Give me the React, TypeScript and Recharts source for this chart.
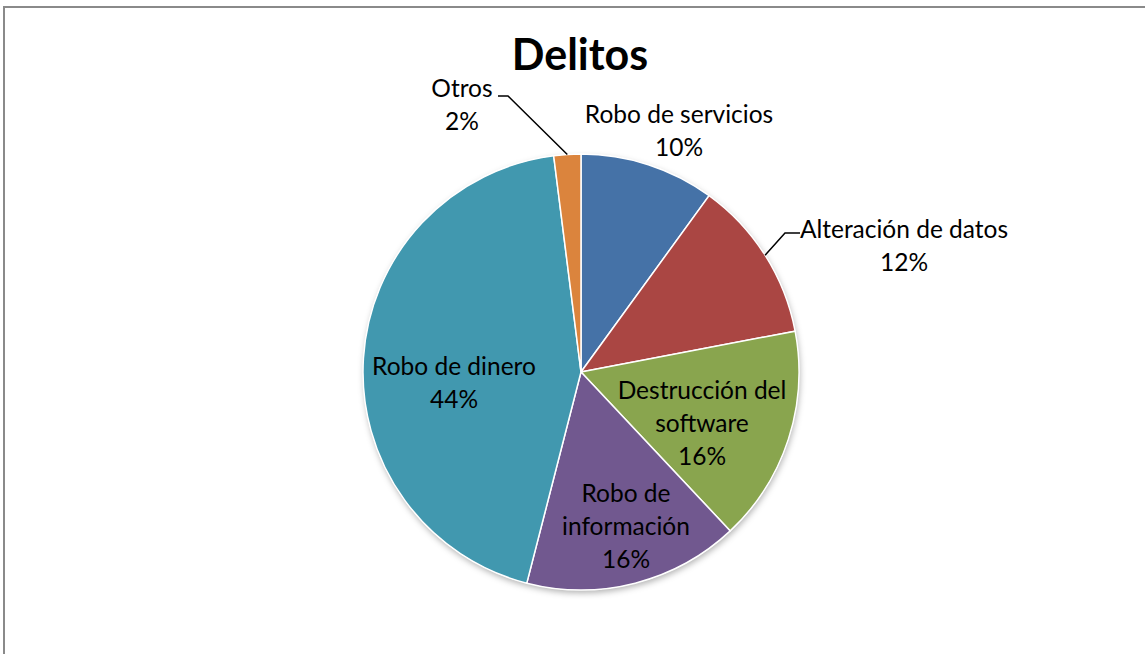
import React from 'react';
import { PieChart, Pie, Cell } from 'recharts';

const categories = [
  'Robo de servicios',
  'Alteración de datos',
  'Destrucción del software',
  'Robo de información',
  'Robo de dinero',
  'Otros',
];
const values = [10, 12, 16, 16, 44, 2];
const percentLabels = ['10%', '12%', '16%', '16%', '44%', '2%'];

// layout (line breaks and label placement)
const labelLines = [
  ['Robo de servicios', '10%'],
  ['Alteración de datos', '12%'],
  ['Destrucción del', 'software', '16%'],
  ['Robo de', 'información', '16%'],
  ['Robo de dinero', '44%'],
  ['Otros', '2%'],
];
const colors = ['#4572A7', '#AA4643', '#89A54E', '#71588F', '#4198AF', '#DB843D'];
const labelOffsets: [number, number][] = [
  [98, -249],
  [323, -134],
  [121, 27],
  [45, 130],
  [-127, 3],
  [-119, -275],
];
const leaders: (null | { elbow: [number, number]; end: [number, number] })[] = [
  null,
  { elbow: [204, -139], end: [219, -139] },
  null,
  null,
  null,
  { elbow: [-73, -276], end: [-83, -276] },
];

const data = categories.map((name, i) => ({ name, value: values[i], pct: percentLabels[i] }));
const shadowData = [{ name: 'shadow', value: 1 }];

const FONT = 'Lato, "Open Sans", sans-serif';
const RADIAN = Math.PI / 180;

const renderLabel = (props: any) => {
  const { cx, cy, midAngle, outerRadius, index } = props;
  const [dx, dy] = labelOffsets[index];
  const lines = labelLines[index];
  const lx = cx + dx;
  const ly = cy + dy;
  const leader = leaders[index];
  let path = null;
  if (leader) {
    const ex = cx + outerRadius * Math.cos(-midAngle * RADIAN);
    const ey = cy + outerRadius * Math.sin(-midAngle * RADIAN);
    path = (
      <polyline
        points={`${ex},${ey} ${cx + leader.elbow[0]},${cy + leader.elbow[1]} ${cx + leader.end[0]},${cy + leader.end[1]}`}
        fill="none"
        stroke="#000"
        strokeWidth={1.5}
      />
    );
  }
  return (
    <g key={`lbl-${index}`}>
      {path}
      <text x={lx} y={ly} textAnchor="middle" fontFamily={FONT} fontSize={24.5} fill="#000">
        {lines.map((l, i) => (
          <tspan key={i} x={lx} dy={i === 0 ? 0 : 33}>
            {l}
          </tspan>
        ))}
      </text>
    </g>
  );
};

export default function App() {
  return (
    <div style={{ position: 'absolute', left: 0, top: 0, width: 1145, height: 654, background: '#fff', overflow: 'hidden' }}>
      <div
        style={{
          position: 'absolute',
          left: 3,
          top: 6,
          width: 1200,
          height: 700,
          borderLeft: '2px solid #8a8a8a',
          borderTop: '2px solid #8a8a8a',
        }}
      />
      <div style={{ position: 'absolute', left: 0, top: 0 }}>
        <PieChart width={1145} height={654} margin={{ top: 0, right: 0, bottom: 0, left: 0 }}>
          <defs>
            <filter id="pieShadow" x="-20%" y="-20%" width="140%" height="140%">
              <feDropShadow dx="1" dy="3" stdDeviation="3" floodColor="#000" floodOpacity="0.3" />
            </filter>
          </defs>
          <text x={580} y={70} textAnchor="middle" fontFamily={FONT} fontWeight="bold" fontSize={43} fill="#000">
            Delitos
          </text>
          <Pie
            data={shadowData}
            dataKey="value"
            cx={581}
            cy={372}
            outerRadius={218}
            startAngle={90}
            endAngle={-270}
            stroke="none"
            fill="#fff"
            filter="url(#pieShadow)"
            isAnimationActive={false}
            label={false}
            labelLine={false}
          />
          <Pie
            data={data}
            dataKey="value"
            nameKey="name"
            cx={581}
            cy={372}
            outerRadius={218}
            startAngle={90}
            endAngle={-270}
            stroke="#fff"
            strokeWidth={1.5}
            isAnimationActive={false}
            label={renderLabel}
            labelLine={false}
          >
            {data.map((d, i) => (
              <Cell key={d.name} fill={colors[i]} />
            ))}
          </Pie>
        </PieChart>
      </div>
    </div>
  );
}
